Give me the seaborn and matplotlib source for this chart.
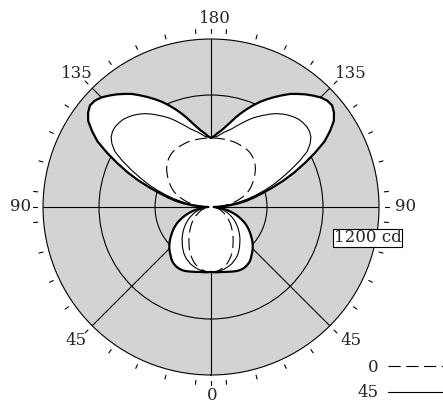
import numpy as np
import matplotlib
matplotlib.use('Agg')
import matplotlib.pyplot as plt
import matplotlib.transforms as mtransforms
import seaborn as sns

# Lichtsterkte (cd) per gamma-hoek (stap 2,5 graden) voor de C-vlakken 0, 45 en 90
gamma = np.arange(0, 180.1, 2.5)
c0 = [464, 464, 461, 455, 446, 437, 425, 410, 393, 376, 357, 336,
      314, 294, 275, 257, 239, 223, 207, 193, 179, 164, 150, 137,
      125, 112, 100, 89, 79, 68, 57, 48, 39, 30, 21, 18,
      14, 46, 79, 114, 150, 179, 207, 236, 264, 286, 307, 325,
      343, 361, 379, 396, 414, 429, 443, 454, 464, 472, 479, 483,
      486, 488, 489, 491, 493, 493, 493, 493, 493, 493, 493, 493, 493]
c45 = [464, 464, 463, 461, 457, 452, 446, 439, 432, 421, 411, 399,
       386, 370, 354, 337, 321, 306, 289, 273, 257, 241, 225, 209,
       193, 177, 161, 144, 129, 113, 96, 80, 64, 50, 36, 25,
       14, 57, 100, 150, 207, 271, 336, 407, 479, 550, 629, 714,
       793, 839, 871, 887, 893, 891, 886, 873, 857, 837, 814, 787,
       757, 729, 700, 668, 636, 607, 579, 559, 543, 524, 507, 500, 493]
c90 = [464, 466, 468, 469, 471, 475, 479, 484, 489, 494, 496, 496,
       493, 487, 479, 466, 450, 436, 421, 404, 386, 366, 346, 327,
       307, 286, 264, 239, 214, 188, 161, 134, 107, 82, 57, 36,
       21, 71, 129, 193, 257, 314, 379, 457, 550, 643, 736, 836,
       936, 1007, 1071, 1107, 1129, 1125, 1107, 1079, 1050, 1018, 986, 946,
       907, 868, 829, 786, 743, 700, 657, 614, 579, 550, 529, 507, 493]
legend_labels = ['0', '45']
ring_values = [400, 800]
r_max = 1200
label_angles = [0, 45, 90, 135, 180]
tick_angles = [0, 90, 180] + list(range(5, 180, 10))


def mirrored(values):
    """Spiegel de curve zodat ook de linkerhelft van het diagram getekend wordt."""
    th = np.radians(gamma)
    v = np.asarray(values, dtype=float)
    return np.concatenate([th, -th[::-1]]), np.concatenate([v, v[::-1]])


sns.set_style('white')
plt.rcParams['font.family'] = 'DejaVu Serif'

fig = plt.figure(figsize=(4.43, 4.05), dpi=100)
ax = fig.add_axes([0.0971, 0.0741, 0.7585, 0.8296], projection='polar')
ax.set_theta_zero_location('S')
ax.set_theta_direction(1)
ax.set_facecolor('#d3d3d3')

# Witte vulling onder de buitenste curve
th, r = mirrored(c90)
ax.fill(th, r, color='white', lw=0, zorder=2)

handles = []
styles = [dict(lw=0.8, linestyle=(0, (11, 5))), dict(lw=0.8, linestyle='-'), dict(lw=1.6, linestyle='-')]
for values, st in zip([c0, c45, c90], styles):
    th, r = mirrored(values)
    sns.lineplot(x=th, y=r, sort=False, estimator=None, color='black', ax=ax,
                 legend=False, zorder=3, **st)
    handles.append(ax.lines[-1])

ax.set_ylim(0, r_max)
ax.set_rticks(ring_values)
ax.set_yticklabels([])
ax.set_xticks(np.radians(np.arange(0, 360, 45)))
ax.set_xticklabels([])
ax.grid(True, color='black', lw=0.8)
ax.set_axisbelow(True)
ax.tick_params(length=0)
ax.spines['polar'].set_color('black')
ax.spines['polar'].set_linewidth(0.8)
ax.set_xlabel('')
ax.set_ylabel('')

# Hoekmarkeringen en labels buiten de cirkel
for g in tick_angles:
    for s in ({1, -1} if g not in (0, 180) else {1}):
        t = np.radians(s * g)
        ax.plot([t, t], [1243, 1272], color='black', lw=0.8, clip_on=False)
for g in label_angles:
    for s in ({1, -1} if g not in (0, 180) else {1}):
        # labels rechts staan iets verder naar rechts dan links
        if g == 180:
            shift = 4
        elif g == 0:
            shift = 1
        else:
            shift = 6 if s == 1 else -1
        trans = mtransforms.offset_copy(ax.transData, fig=fig, x=shift, y=0, units='dots')
        ax.text(np.radians(s * g), 1350, str(g), ha='center', va='center',
                fontsize=12, clip_on=False, transform=trans)

ax.text(np.radians(78.8), 1139, f'{r_max} cd', ha='center', va='center', fontsize=12, zorder=5,
        bbox=dict(boxstyle='square,pad=0.05', fc='white', ec='black', lw=0.8))

fig.legend(handles[:2], legend_labels, loc='upper left', bbox_to_anchor=(357 / 443, (405 - 359) / 405),
           frameon=False, markerfirst=False, handlelength=4, handletextpad=0.6, fontsize=12,
           borderaxespad=0, borderpad=0)

fig.savefig('out.png', dpi=100, facecolor='white')
